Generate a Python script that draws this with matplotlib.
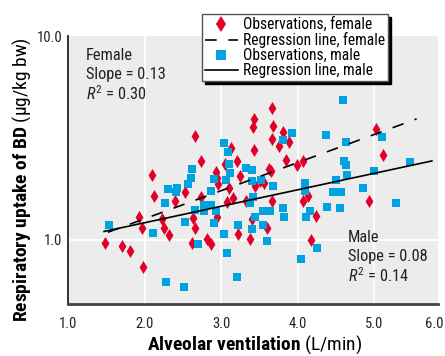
import matplotlib
matplotlib.use('Agg')
import matplotlib.pyplot as plt
from matplotlib import font_manager as fm
from matplotlib.lines import Line2D

# ---------------- data ----------------
female_x = [2.66, 2.74, 2.10, 2.12, 2.53, 2.73, 2.40, 3.66, 3.43, 3.42, 3.68, 3.81, 3.66, 3.88,
            3.75, 3.13, 3.43, 3.20, 3.84, 3.99, 4.07, 2.93, 3.05, 3.24, 2.94, 2.96, 3.62, 3.65,
            3.50, 3.56, 3.44, 3.10, 3.16, 3.33, 3.08, 3.66, 4.07, 4.13, 5.02, 5.11, 4.93, 1.48,
            1.71, 1.81, 1.98, 1.93, 1.97, 2.23, 2.25, 2.32, 2.63, 2.66, 2.62, 2.81, 2.94, 3.40,
            3.60, 3.22, 3.37, 2.87, 4.24, 4.17]
female_y = [3.22, 2.43, 2.09, 1.64, 1.72, 1.63, 1.55, 4.43, 3.90, 3.56, 3.63, 3.39, 3.13, 3.02,
            2.88, 2.83, 2.76, 2.44, 2.46, 2.32, 2.43, 2.16, 2.35, 2.06, 2.02, 1.88, 2.23, 2.17,
            1.94, 1.91, 1.84, 1.79, 1.61, 1.56, 1.54, 1.56, 1.56, 1.65, 3.50, 2.61, 1.55, 0.97,
            0.93, 0.88, 0.74, 1.30, 1.15, 1.26, 1.14, 1.06, 1.28, 1.15, 0.97, 1.01, 1.30, 1.27,
            1.15, 1.07, 1.01, 0.95, 1.31, 1.00]

male_x = [2.62, 2.60, 2.57, 2.31, 2.42, 2.41, 2.26, 3.03, 3.09, 3.92, 3.81, 3.10, 3.11, 3.32,
          3.40, 2.90, 3.06, 3.40, 3.52, 3.67, 4.09, 4.09, 2.87, 3.41, 2.78, 2.77, 2.87, 2.93,
          4.59, 4.37, 5.10, 4.63, 4.60, 4.63, 5.47, 5.00, 4.64, 4.50, 4.46, 4.56, 4.85, 5.28,
          1.53, 2.11, 2.53, 2.70, 2.28, 2.52, 2.91, 3.37, 3.54, 3.64, 3.81, 3.82, 3.44, 3.54,
          3.22, 3.40, 3.04, 3.60, 3.08, 3.20, 4.16, 4.11, 4.25, 4.04, 4.38, 4.55, 2.66]
male_y = [2.22, 2.01, 1.88, 1.78, 1.79, 1.72, 1.52, 3.00, 2.71, 3.33, 3.08, 2.35, 2.13, 2.24,
          2.20, 1.98, 1.96, 1.94, 1.96, 1.84, 1.91, 1.74, 1.73, 1.63, 1.49, 1.39, 1.49, 1.39,
          4.87, 3.28, 3.19, 3.01, 2.43, 2.34, 2.40, 2.17, 2.08, 1.96, 1.72, 1.72, 1.79, 1.51,
          1.18, 1.08, 1.22, 0.95, 0.62, 0.59, 1.21, 1.51, 1.38, 1.38, 1.43, 1.29, 1.30, 1.19,
          1.18, 1.13, 1.07, 0.99, 0.86, 0.66, 1.39, 1.30, 0.91, 0.81, 1.45, 1.43, 1.40]

female_line_x = [1.52, 5.55]
female_line_y = [1.09, 3.92]
male_line_x = [1.47, 5.75]
male_line_y = [1.10, 2.44]

x_ticks = [1, 2, 3, 4, 5, 5.78]
x_ticklabels = ['1.0', '2.0', '3.0', '4.0', '5.0', '6.0']
y_ticks = [1, 10]
y_ticklabels = ['1.0', '10.0']

legend_labels = ['Observations, female', 'Regression line, female',
                 'Observations, male', 'Regression line, male']

# ---------------- style ----------------
names = {f.name for f in fm.fontManager.ttflist}
FONT = 'DejaVu Sans'
for cand in ['Liberation Sans Narrow', 'Roboto Condensed', 'Open Sans Condensed', 'Liberation Sans']:
    if cand in names:
        FONT = cand
        break
plt.rcParams['font.family'] = [FONT, 'DejaVu Sans']
plt.rcParams['mathtext.fontset'] = 'custom'
plt.rcParams['mathtext.rm'] = FONT
plt.rcParams['mathtext.it'] = FONT + ':italic'
plt.rcParams['mathtext.bf'] = FONT + ':bold'

RED = '#e2002a'
BLUE = '#00a3e0'
BG = '#ececec'
TXT = '#222222'

fig = plt.figure(figsize=(4.45, 3.56), dpi=100)
ax = fig.add_axes([68/445, 1-304/356, 370/445, 268/356])
ax.set_facecolor(BG)
ax.set_yscale('log')
ax.set_xlim(1.0, 5.83)
ax.set_ylim(0.485, 10.0)

ax.set_xticks(x_ticks)
ax.set_xticklabels(x_ticklabels)
ax.set_yticks(y_ticks)
ax.set_yticklabels(y_ticklabels)
ax.yaxis.set_minor_locator(matplotlib.ticker.NullLocator())
ax.tick_params(length=0, labelsize=10.5, colors=TXT)
ax.tick_params(axis='x', pad=9)
ax.tick_params(axis='y', pad=4)

for xv in x_ticks[1:5]:
    ax.axvline(xv, color='white', lw=1.3, zorder=1)
ax.axhline(1.0, color='white', lw=1.3, zorder=1)

for s in ['top', 'right']:
    ax.spines[s].set_visible(False)
ax.spines['left'].set_color('#333333')
ax.spines['left'].set_linewidth(1.4)
ax.spines['bottom'].set_color('#444444')
ax.spines['bottom'].set_linewidth(2.0)

ax.scatter(female_x, female_y, marker='d', s=44, color=RED, linewidths=0, zorder=3)
ax.scatter(male_x, male_y, marker='s', s=30, color=BLUE, linewidths=0, zorder=3)
ax.plot(female_line_x, female_line_y, color='black', lw=1.2, linestyle=(0, (7, 7)), zorder=4)
ax.plot(male_line_x, male_line_y, color='black', lw=1.2, linestyle='-', zorder=4)

# annotations
ANN = 11.8
ax.text(86/445, 1-56/356, 'Female', transform=fig.transFigure, fontsize=ANN, color=TXT, va='center', ha='left')
ax.text(86/445, 1-75/356, 'Slope = 0.13', transform=fig.transFigure, fontsize=ANN, color=TXT, va='center', ha='left')
ax.text(86/445, 1-94/356, r'$R^2$ = 0.30', transform=fig.transFigure, fontsize=ANN, color=TXT, va='center', ha='left')
ax.text(348/445, 1-238/356, 'Male', transform=fig.transFigure, fontsize=ANN, color=TXT, va='center', ha='left')
ax.text(348/445, 1-257/356, 'Slope = 0.08', transform=fig.transFigure, fontsize=ANN, color=TXT, va='center', ha='left')
ax.text(348/445, 1-276/356, r'$R^2$ = 0.14', transform=fig.transFigure, fontsize=ANN, color=TXT, va='center', ha='left')

# axis labels
fig.text(255/445, 1-345/356, r'$\mathbf{Alveolar\ ventilation}$ (L/min)', fontsize=14,
         ha='center', va='center', color='black')
fig.text(22/445, 1-180/356, r'$\mathbf{Respiratory\ uptake\ of\ BD}$ (µg/kg bw)', fontsize=14,
         ha='center', va='center', rotation=90, color='black')

handles = [
    Line2D([], [], marker='d', color=RED, linestyle='none', markersize=8, markeredgewidth=0),
    Line2D([], [], color='black', lw=1.2, linestyle=(0, (7, 7))),
    Line2D([], [], marker='s', color=BLUE, linestyle='none', markersize=6.5, markeredgewidth=0),
    Line2D([], [], color='black', lw=1.2, linestyle='-'),
]
leg = fig.legend(handles, legend_labels, loc='upper left', bbox_to_anchor=(202/445, 1-14/356),
                 fontsize=11.2, frameon=True, fancybox=False, borderaxespad=0,
                 handlelength=2.1, handletextpad=0.35, labelspacing=0.0, borderpad=0.2,
                 shadow={'color': 'black', 'alpha': 1})
leg.get_frame().set_edgecolor('#555555')
leg.get_frame().set_linewidth(1.0)
leg.get_frame().set_facecolor('white')
leg.set_zorder(10)

fig.savefig('out.png', dpi=100)
